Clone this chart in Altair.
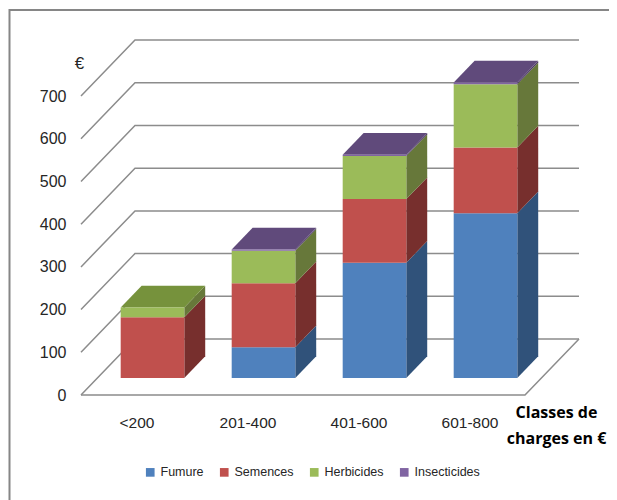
import json
import altair as alt
import pandas as pd

categories = ["<200", "201-400", "401-600", "601-800"]
series = ["Fumure", "Semences", "Herbicides", "Insecticides"]
fumure = [0, 72, 270, 386]
semences = [142, 150, 149, 154]
herbicides = [23, 76, 101, 148]
insecticides = [0, 3, 3, 4]
ticks = [0, 100, 200, 300, 400, 500, 600, 700]

front_colors = ["#4f81bd", "#c0504d", "#9bbb59", "#8064a2"]
side_colors = ["#30527a", "#772f2d", "#67783a", "#4d3b63"]
top_colors = ["#3c6594", "#963c3a", "#76923c", "#604a7b"]

# projection of the oblique "3D" box, in data units
DX, DY = 54 / 111, 56 / 0.427
D_FRONT, D_BACK = 17 / 56, 38.7 / 56
GAP, BAR_W = 23.3 / 111, 63.6 / 111
X_MAX, Y_MAX = 499 / 111, 355 / 0.427

stacks = [fumure, semences, herbicides, insecticides]

walls, fronts, faces = [], [], []
ln = 0
for t in ticks:
    ln += 1
    walls += [
        {"x": 0, "y": t, "id": ln, "i": 0},
        {"x": DX, "y": t + DY, "id": ln, "i": 1},
        {"x": len(categories) + DX, "y": t + DY, "id": ln, "i": 2},
    ]
ln += 1
walls += [
    {"x": 0, "y": 0, "id": ln, "i": 0},
    {"x": len(categories), "y": 0, "id": ln, "i": 1},
    {"x": len(categories) + DX, "y": DY, "id": ln, "i": 2},
]

fid = 0
for k in range(len(categories)):
    xl = k + D_FRONT * DX + GAP
    xr = xl + BAR_W
    d = (D_BACK - D_FRONT) * DX
    dv = (D_BACK - D_FRONT) * DY
    base = D_FRONT * DY
    v = base
    last = None
    for s in range(len(series)):
        h = stacks[s][k]
        if h == 0:
            continue
        fronts.append({"x": xl, "x2": xr, "y": v, "y2": v + h, "series": series[s]})
        fid += 1
        faces += [
            {"x": xr, "y": v, "y2": v + h, "id": fid, "shade": side_colors[s]},
            {"x": xr + d, "y": v + dv, "y2": v + h + dv, "id": fid, "shade": side_colors[s]},
        ]
        v += h
        last = s
    fid += 1
    c = top_colors[last]
    faces += [
        {"x": xl, "y": v, "y2": v, "id": fid, "shade": c},
        {"x": xl + d, "y": v + dv, "y2": v, "id": fid, "shade": c},
        {"x": xr, "y": v + dv, "y2": v, "id": fid, "shade": c},
        {"x": xr + d, "y": v + dv, "y2": v + dv, "id": fid, "shade": c},
    ]

xs = alt.Scale(domain=[0, X_MAX], nice=False, zero=False)
ys = alt.Scale(domain=[0, Y_MAX], nice=False, zero=False)
FONT = "Liberation Sans"
TEXT = "#262626"

x_axis = alt.Axis(
    values=[k + 0.5 for k in range(len(categories))],
    labelExpr=json.dumps(categories) + "[floor(datum.value)]",
    grid=False, domain=False, ticks=False, labelPadding=20,
    labelFont=FONT, labelFontSize=15.5, labelColor=TEXT, labelAngle=0,
    title=["Classes de", "charges en €"],
    titleFont="Open Sans", titleFontSize=16, titleFontWeight="bold", titleColor="#000000",
    titleX=475, titleY=9, titleAlign="center", titleBaseline="top", titleLineHeight=26,
)
y_axis = alt.Axis(
    values=ticks, grid=False, domain=False, ticks=False, labelPadding=15,
    labelFont=FONT, labelFontSize=16, labelColor=TEXT,
    title="€", titleAngle=0, titleFont=FONT, titleFontSize=17, titleFontWeight="normal",
    titleColor=TEXT, titleX=-2, titleY=23, titleAlign="center", titleBaseline="middle",
)

wall_layer = alt.Chart(pd.DataFrame(walls)).mark_line(color="#8c8c8c", strokeWidth=1.5).encode(
    x=alt.X("x:Q", scale=xs, axis=x_axis),
    y=alt.Y("y:Q", scale=ys, axis=y_axis),
    detail="id:N",
    order="i:Q",
)
face_layer = alt.Chart(pd.DataFrame(faces)).mark_area(orient="vertical").encode(
    x=alt.X("x:Q", scale=xs, axis=x_axis),
    y=alt.Y("y:Q", scale=ys, axis=y_axis, stack=None),
    y2="y2:Q",
    detail="id:N",
    fill=alt.Fill("shade:N", scale=None),
)
front_layer = alt.Chart(pd.DataFrame(fronts)).mark_rect().encode(
    x=alt.X("x:Q", scale=xs, axis=x_axis),
    x2="x2:Q",
    y=alt.Y("y:Q", scale=ys, axis=y_axis),
    y2="y2:Q",
    color=alt.Color(
        "series:N",
        scale=alt.Scale(domain=series, range=front_colors),
        legend=alt.Legend(
            orient="none", legendX=63, legendY=426, direction="horizontal", columns=4,
            title=None, symbolType="square", symbolSize=75, symbolStrokeWidth=0,
            labelFont=FONT, labelFontSize=12.5, labelColor=TEXT, labelOffset=4,
            columnPadding=14,
        ),
    ),
)
frame_left = alt.Chart(pd.DataFrame({"a": [0]})).mark_rule(color="#868686", strokeWidth=2).encode(
    x=alt.value(-71.5), y=alt.value(-31), y2=alt.value(460)
)
frame_top = alt.Chart(pd.DataFrame({"a": [0]})).mark_rule(color="#868686", strokeWidth=2).encode(
    x=alt.value(-71.5), x2=alt.value(528), y=alt.value(-30)
)

chart = alt.layer(frame_left, frame_top, wall_layer, face_layer, front_layer).properties(
    width=499, height=355,
    autosize=alt.AutoSizeParams(type="none"),
    padding={"left": 73, "top": 32, "right": 29, "bottom": 105},
    background="#ffffff",
).configure_view(stroke=None)

chart.save("out.html", embed_options={"renderer": "svg", "actions": False})
